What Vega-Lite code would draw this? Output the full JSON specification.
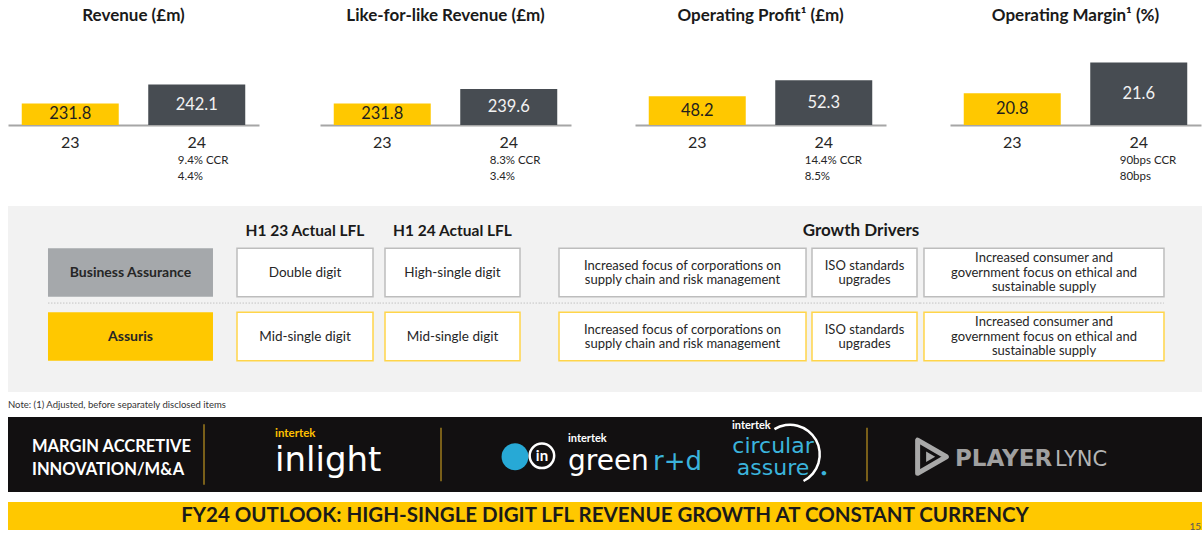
{
"$schema": "https://vega.github.io/schema/vega-lite/v6.json",
"padding": {"left": 8, "top": 7, "right": 0, "bottom": 0},
"background": "white",
"config": {
  "font": "Lato",
  "view": {"stroke": null},
  "title": {"font": "Lato", "fontSize": 17, "fontWeight": "bold", "color": "#1a1a1a", "offset": 15, "anchor": "middle"},
  "axis": {"labelFont": "Lato"},
  "text": {"font": "Lato"}
},
"datasets": {
  "fin": [
    {"metric": "Revenue", "year": "23", "value": 231.8},
    {"metric": "Revenue", "year": "24", "value": 242.1, "note": "9.4% CCR\n4.4%"},
    {"metric": "LFL", "year": "23", "value": 231.8},
    {"metric": "LFL", "year": "24", "value": 239.6, "note": "8.3% CCR\n3.4%"},
    {"metric": "OP", "year": "23", "value": 48.2},
    {"metric": "OP", "year": "24", "value": 52.3, "note": "14.4% CCR\n8.5%"},
    {"metric": "OM", "year": "23", "value": 20.8},
    {"metric": "OM", "year": "24", "value": 21.6, "note": "90bps CCR\n80bps"}
  ],
  "cells": [
    {"col": "seg", "row": "Business Assurance", "text": "Business Assurance"},
    {"col": "seg", "row": "Assuris", "text": "Assuris"},
    {"col": "h123", "row": "Business Assurance", "text": "Double digit"},
    {"col": "h123", "row": "Assuris", "text": "Mid-single digit"},
    {"col": "h124", "row": "Business Assurance", "text": "High-single digit"},
    {"col": "h124", "row": "Assuris", "text": "Mid-single digit"},
    {"col": "d1", "row": "Business Assurance", "text": "Increased focus of corporations on\nsupply chain and risk management"},
    {"col": "d1", "row": "Assuris", "text": "Increased focus of corporations on\nsupply chain and risk management"},
    {"col": "d2", "row": "Business Assurance", "text": "ISO standards\nupgrades"},
    {"col": "d2", "row": "Assuris", "text": "ISO standards\nupgrades"},
    {"col": "d3", "row": "Business Assurance", "text": "Increased consumer and\ngovernment focus on ethical and\nsustainable supply"},
    {"col": "d3", "row": "Assuris", "text": "Increased consumer and\ngovernment focus on ethical and\nsustainable supply"}
  ],
  "heads": [
    {"col": "h123", "text": "H1 23 Actual LFL"},
    {"col": "h124", "text": "H1 24 Actual LFL"},
    {"col": "d3", "text": "Growth Drivers"}
  ],
  "note": [{"note": "Note: (1) Adjusted, before separately disclosed items"}],
  "banner": [
    {"cell": "c1", "part": "tagline", "text": "MARGIN ACCRETIVE\nINNOVATION/M&A"},
    {"cell": "c2", "part": "small", "text": "intertek"},
    {"cell": "c2", "part": "big", "text": "inlight"},
    {"cell": "c3", "part": "globe"},
    {"cell": "c3", "part": "in", "text": "in"},
    {"cell": "c3", "part": "small", "text": "intertek"},
    {"cell": "c3", "part": "big", "text": "green"},
    {"cell": "c3", "part": "accent", "text": "r+d"},
    {"cell": "c4", "part": "small", "text": "intertek"},
    {"cell": "c4", "part": "lines", "text": "circular\nassure"},
    {"cell": "c4", "part": "dot", "text": "•"},
    {"cell": "c5", "part": "icon"},
    {"cell": "c5", "part": "big", "text": "PLAYER"},
    {"cell": "c5", "part": "accent", "text": "LYNC"}
  ],
  "footer": [
    {"part": "outlook", "text": "FY24 OUTLOOK: HIGH-SINGLE DIGIT LFL REVENUE GROWTH AT CONSTANT CURRENCY"},
    {"part": "page", "text": "15"}
  ]
},
"vconcat": [
  {"hconcat": [
    {"width": 251, "height": 85, "title": {"text": "Revenue (£m)"},
     "data": {"name": "fin"}, "transform": [{"filter": "datum.metric == 'Revenue'"}],
     "encoding": {"x": {"field": "year", "type": "nominal", "scale": {"paddingInner": 0.2332, "paddingOuter": 0.1087, "align": 0.5}, "axis": {"title": null, "labelAngle": 0, "ticks": false, "tickSize": 0, "labelPadding": 9, "labelFontSize": 16, "labelColor": "#262626", "domainColor": "#a6a6a6", "domainWidth": 2, "grid": false}}},
     "layer": [
       {"mark": {"type": "bar"}, "encoding": {"y": {"field": "value", "type": "quantitative", "scale": {"domain": [220.3, 266.0], "zero": false, "nice": false}, "axis": null}, "y2": {"datum": 220.3}, "color": {"field": "year", "type": "nominal", "scale": {"domain": ["23", "24"], "range": ["#ffc800", "#474c52"]}, "legend": null}}},
       {"mark": {"type": "text", "fontSize": 16.5, "baseline": "middle"}, "encoding": {"y": {"field": "value", "type": "quantitative", "scale": {"domain": [220.3, 311.7], "zero": false, "nice": false}, "axis": null}, "text": {"field": "value", "type": "quantitative", "format": ".1f"}, "color": {"field": "year", "type": "nominal", "scale": {"domain": ["23", "24"], "range": ["#1f1f1f", "#f2f2f2"]}, "legend": null}}},
       {"transform": [{"filter": "isValid(datum.note)"}], "mark": {"type": "text", "align": "left", "baseline": "top", "fontSize": 11.5, "lineBreak": "\n", "lineHeight": 15.5, "dx": -19, "dy": 30, "color": "#262626"}, "encoding": {"y": {"datum": 220.3, "type": "quantitative", "scale": {"domain": [220.3, 266.0], "zero": false, "nice": false}, "axis": null}, "text": {"field": "note"}}}
     ],
     "resolve": {"scale": {"y": "independent", "color": "independent"}}
    },
    {"hconcat": [
      {"width": 251, "height": 85, "title": {"text": "Like-for-like Revenue (£m)"},
       "data": {"name": "fin"}, "transform": [{"filter": "datum.metric == 'LFL'"}],
       "encoding": {"x": {"field": "year", "type": "nominal", "scale": {"paddingInner": 0.2332, "paddingOuter": 0.1087, "align": 0.5}, "axis": {"title": null, "labelAngle": 0, "ticks": false, "tickSize": 0, "labelPadding": 9, "labelFontSize": 16, "labelColor": "#262626", "domainColor": "#a6a6a6", "domainWidth": 2, "grid": false}}},
       "layer": [
         {"mark": {"type": "bar"}, "encoding": {"y": {"field": "value", "type": "quantitative", "scale": {"domain": [220.3, 266.0], "zero": false, "nice": false}, "axis": null}, "y2": {"datum": 220.3}, "color": {"field": "year", "type": "nominal", "scale": {"domain": ["23", "24"], "range": ["#ffc800", "#474c52"]}, "legend": null}}},
         {"mark": {"type": "text", "fontSize": 16.5, "baseline": "middle"}, "encoding": {"y": {"field": "value", "type": "quantitative", "scale": {"domain": [220.3, 311.7], "zero": false, "nice": false}, "axis": null}, "text": {"field": "value", "type": "quantitative", "format": ".1f"}, "color": {"field": "year", "type": "nominal", "scale": {"domain": ["23", "24"], "range": ["#1f1f1f", "#f2f2f2"]}, "legend": null}}},
         {"transform": [{"filter": "isValid(datum.note)"}], "mark": {"type": "text", "align": "left", "baseline": "top", "fontSize": 11.5, "lineBreak": "\n", "lineHeight": 15.5, "dx": -19, "dy": 30, "color": "#262626"}, "encoding": {"y": {"datum": 220.3, "type": "quantitative", "scale": {"domain": [220.3, 266.0], "zero": false, "nice": false}, "axis": null}, "text": {"field": "note"}}}
       ],
       "resolve": {"scale": {"y": "independent", "color": "independent"}}
      },
      {"width": 251, "height": 85, "title": {"text": "Operating Profit¹ (£m)"},
       "data": {"name": "fin"}, "transform": [{"filter": "datum.metric == 'OP'"}],
       "encoding": {"x": {"field": "year", "type": "nominal", "scale": {"paddingInner": 0.2332, "paddingOuter": 0.1087, "align": 0.5}, "axis": {"title": null, "labelAngle": 0, "ticks": false, "tickSize": 0, "labelPadding": 9, "labelFontSize": 16, "labelColor": "#262626", "domainColor": "#a6a6a6", "domainWidth": 2, "grid": false}}},
       "layer": [
         {"mark": {"type": "bar"}, "encoding": {"y": {"field": "value", "type": "quantitative", "scale": {"domain": [40.8, 62.6], "zero": false, "nice": false}, "axis": null}, "y2": {"datum": 40.8}, "color": {"field": "year", "type": "nominal", "scale": {"domain": ["23", "24"], "range": ["#ffc800", "#474c52"]}, "legend": null}}},
         {"mark": {"type": "text", "fontSize": 16.5, "baseline": "middle"}, "encoding": {"y": {"field": "value", "type": "quantitative", "scale": {"domain": [40.8, 84.4], "zero": false, "nice": false}, "axis": null}, "text": {"field": "value", "type": "quantitative", "format": ".1f"}, "color": {"field": "year", "type": "nominal", "scale": {"domain": ["23", "24"], "range": ["#1f1f1f", "#f2f2f2"]}, "legend": null}}},
         {"transform": [{"filter": "isValid(datum.note)"}], "mark": {"type": "text", "align": "left", "baseline": "top", "fontSize": 11.5, "lineBreak": "\n", "lineHeight": 15.5, "dx": -19, "dy": 30, "color": "#262626"}, "encoding": {"y": {"datum": 40.8, "type": "quantitative", "scale": {"domain": [40.8, 62.6], "zero": false, "nice": false}, "axis": null}, "text": {"field": "note"}}}
       ],
       "resolve": {"scale": {"y": "independent", "color": "independent"}}
      },
      {"width": 251, "height": 85, "title": {"text": "Operating Margin¹ (%)"},
       "data": {"name": "fin"}, "transform": [{"filter": "datum.metric == 'OM'"}],
       "encoding": {"x": {"field": "year", "type": "nominal", "scale": {"paddingInner": 0.2332, "paddingOuter": 0.1087, "align": 0.5}, "axis": {"title": null, "labelAngle": 0, "ticks": false, "tickSize": 0, "labelPadding": 9, "labelFontSize": 16, "labelColor": "#262626", "domainColor": "#a6a6a6", "domainWidth": 2, "grid": false}}},
       "layer": [
         {"mark": {"type": "bar"}, "encoding": {"y": {"field": "value", "type": "quantitative", "scale": {"domain": [19.97, 22.19], "zero": false, "nice": false}, "axis": null}, "y2": {"datum": 19.97}, "color": {"field": "year", "type": "nominal", "scale": {"domain": ["23", "24"], "range": ["#ffc800", "#474c52"]}, "legend": null}}},
         {"mark": {"type": "text", "fontSize": 16.5, "baseline": "middle"}, "encoding": {"y": {"field": "value", "type": "quantitative", "scale": {"domain": [19.97, 24.41], "zero": false, "nice": false}, "axis": null}, "text": {"field": "value", "type": "quantitative", "format": ".1f"}, "color": {"field": "year", "type": "nominal", "scale": {"domain": ["23", "24"], "range": ["#1f1f1f", "#f2f2f2"]}, "legend": null}}},
         {"transform": [{"filter": "isValid(datum.note)"}], "mark": {"type": "text", "align": "left", "baseline": "top", "fontSize": 11.5, "lineBreak": "\n", "lineHeight": 15.5, "dx": -19, "dy": 30, "color": "#262626"}, "encoding": {"y": {"datum": 19.97, "type": "quantitative", "scale": {"domain": [19.97, 22.19], "zero": false, "nice": false}, "axis": null}, "text": {"field": "note"}}}
       ],
       "resolve": {"scale": {"y": "independent", "color": "independent"}}
      }
    ], "spacing": 64}
  ], "spacing": 61},
  {"vconcat": [
    {"hconcat": [
      {"width": 217, "height": 186, "view": {"fill": "#f2f2f2", "stroke": null},
       "data": {"name": "cells"}, "transform": [{"filter": "datum.col == 'seg'"}],
       "encoding": {
         "x": {"field": "col", "type": "nominal", "scale": {"paddingInner": 0, "paddingOuter": 0.15758, "align": 0.769}, "axis": null},
         "y": {"field": "row", "type": "nominal", "scale": {"domain": ["Business Assurance", "Assuris"], "paddingInner": 0.2422, "paddingOuter": 0.5742, "align": 0.575}, "axis": null}
       },
       "layer": [
         {"mark": {"type": "rect"}, "encoding": {"fill": {"field": "row", "type": "nominal", "scale": {"domain": ["Business Assurance", "Assuris"], "range": ["#a5a8ab", "#ffc800"]}, "legend": null}}},
         {"mark": {"type": "text", "fontSize": 14, "fontWeight": "bold", "color": "#262626", "baseline": "middle"}, "encoding": {"text": {"field": "text"}}},
         {"transform": [{"filter": "datum.row == 'Assuris'"}], "mark": {"type": "rule", "strokeDash": [1.5, 1.5], "color": "#c4c4c4", "strokeWidth": 1}, "encoding": {"x": {"field": "col", "type": "nominal", "bandPosition": 0}, "x2": {"datum": "seg", "bandPosition": 1.0727}, "y": {"datum": "Assuris", "bandPosition": -0.19}}}
       ]
      },
      {"width": 154, "height": 186, "view": {"fill": "#f2f2f2", "stroke": null},
       "data": {"name": "cells"}, "transform": [{"filter": "datum.col == 'h123'"}],
       "encoding": {
         "x": {"field": "col", "type": "nominal", "scale": {"paddingInner": 0, "paddingOuter": 0.06618, "align": 0.667}, "axis": null},
         "y": {"field": "row", "type": "nominal", "scale": {"domain": ["Business Assurance", "Assuris"], "paddingInner": 0.2422, "paddingOuter": 0.5742, "align": 0.575}, "axis": null}
       },
       "layer": [
         {"transform": [{"filter": "datum.row == 'Assuris'"}], "mark": {"type": "rule", "strokeDash": [1.5, 1.5], "color": "#c4c4c4", "strokeWidth": 1}, "encoding": {"x": null, "y": {"datum": "Assuris", "bandPosition": -0.19}}},
         {"mark": {"type": "rect", "fill": "white", "strokeWidth": 1.5}, "encoding": {"stroke": {"field": "row", "type": "nominal", "scale": {"domain": ["Business Assurance", "Assuris"], "range": ["#bdbdbd", "#ffd54a"]}, "legend": null}}},
         {"mark": {"type": "text", "fontSize": 13.5, "color": "#262626", "baseline": "middle"}, "encoding": {"text": {"field": "text"}}},
         {"data": {"name": "heads"}, "transform": [{"filter": "datum.col == 'h123'"}], "mark": {"type": "text", "fontSize": 15.5, "fontWeight": "bold", "color": "#1a1a1a", "baseline": "middle"}, "encoding": {"y": {"datum": "Business Assurance", "bandPosition": -0.366}, "text": {"field": "text"}}}
       ]
      },
      {"width": 161, "height": 186, "view": {"fill": "#f2f2f2", "stroke": null},
       "data": {"name": "cells"}, "transform": [{"filter": "datum.col == 'h124'"}],
       "encoding": {
         "x": {"field": "col", "type": "nominal", "scale": {"paddingInner": 0, "paddingOuter": 0.0963, "align": 0.231}, "axis": null},
         "y": {"field": "row", "type": "nominal", "scale": {"domain": ["Business Assurance", "Assuris"], "paddingInner": 0.2422, "paddingOuter": 0.5742, "align": 0.575}, "axis": null}
       },
       "layer": [
         {"transform": [{"filter": "datum.row == 'Assuris'"}], "mark": {"type": "rule", "strokeDash": [1.5, 1.5], "color": "#c4c4c4", "strokeWidth": 1}, "encoding": {"x": null, "y": {"datum": "Assuris", "bandPosition": -0.19}}},
         {"mark": {"type": "rect", "fill": "white", "strokeWidth": 1.5}, "encoding": {"stroke": {"field": "row", "type": "nominal", "scale": {"domain": ["Business Assurance", "Assuris"], "range": ["#bdbdbd", "#ffd54a"]}, "legend": null}}},
         {"mark": {"type": "text", "fontSize": 13.5, "color": "#262626", "baseline": "middle"}, "encoding": {"text": {"field": "text"}}},
         {"data": {"name": "heads"}, "transform": [{"filter": "datum.col == 'h124'"}], "mark": {"type": "text", "fontSize": 15.5, "fontWeight": "bold", "color": "#1a1a1a", "baseline": "middle"}, "encoding": {"y": {"datum": "Business Assurance", "bandPosition": -0.366}, "text": {"field": "text"}}}
       ]
      },
      {"width": 269, "height": 186, "view": {"fill": "#f2f2f2", "stroke": null},
       "data": {"name": "cells"}, "transform": [{"filter": "datum.col == 'd1'"}],
       "encoding": {
         "x": {"field": "col", "type": "nominal", "scale": {"paddingInner": 0, "paddingOuter": 0.04453, "align": 0.864}, "axis": null},
         "y": {"field": "row", "type": "nominal", "scale": {"domain": ["Business Assurance", "Assuris"], "paddingInner": 0.2422, "paddingOuter": 0.5742, "align": 0.575}, "axis": null}
       },
       "layer": [
         {"transform": [{"filter": "datum.row == 'Assuris'"}], "mark": {"type": "rule", "strokeDash": [1.5, 1.5], "color": "#c4c4c4", "strokeWidth": 1}, "encoding": {"x": null, "y": {"datum": "Assuris", "bandPosition": -0.19}}},
         {"mark": {"type": "rect", "fill": "white", "strokeWidth": 1.5}, "encoding": {"stroke": {"field": "row", "type": "nominal", "scale": {"domain": ["Business Assurance", "Assuris"], "range": ["#bdbdbd", "#ffd54a"]}, "legend": null}}},
         {"mark": {"type": "text", "fontSize": 13, "color": "#262626", "baseline": "middle", "lineBreak": "\n", "lineHeight": 14.5, "dy": -7}, "encoding": {"text": {"field": "text"}}}
       ]
      },
      {"width": 111, "height": 186, "view": {"fill": "#f2f2f2", "stroke": null},
       "data": {"name": "cells"}, "transform": [{"filter": "datum.col == 'd2'"}],
       "encoding": {
         "x": {"field": "col", "type": "nominal", "scale": {"paddingInner": 0, "paddingOuter": 0.02857, "align": 0.5}, "axis": null},
         "y": {"field": "row", "type": "nominal", "scale": {"domain": ["Business Assurance", "Assuris"], "paddingInner": 0.2422, "paddingOuter": 0.5742, "align": 0.575}, "axis": null}
       },
       "layer": [
         {"transform": [{"filter": "datum.row == 'Assuris'"}], "mark": {"type": "rule", "strokeDash": [1.5, 1.5], "color": "#c4c4c4", "strokeWidth": 1}, "encoding": {"x": null, "y": {"datum": "Assuris", "bandPosition": -0.19}}},
         {"mark": {"type": "rect", "fill": "white", "strokeWidth": 1.5}, "encoding": {"stroke": {"field": "row", "type": "nominal", "scale": {"domain": ["Business Assurance", "Assuris"], "range": ["#bdbdbd", "#ffd54a"]}, "legend": null}}},
         {"mark": {"type": "text", "fontSize": 13, "color": "#262626", "baseline": "middle", "lineBreak": "\n", "lineHeight": 14.5, "dy": -7}, "encoding": {"text": {"field": "text"}}}
       ]
      },
      {"width": 282, "height": 186, "view": {"fill": "#f2f2f2", "stroke": null},
       "data": {"name": "cells"}, "transform": [{"filter": "datum.col == 'd3'"}],
       "encoding": {
         "x": {"field": "col", "type": "nominal", "scale": {"paddingInner": 0, "paddingOuter": 0.0875, "align": 0.095}, "axis": null},
         "y": {"field": "row", "type": "nominal", "scale": {"domain": ["Business Assurance", "Assuris"], "paddingInner": 0.2422, "paddingOuter": 0.5742, "align": 0.575}, "axis": null}
       },
       "layer": [
         {"transform": [{"filter": "datum.row == 'Assuris'"}], "mark": {"type": "rule", "strokeDash": [1.5, 1.5], "color": "#c4c4c4", "strokeWidth": 1}, "encoding": {"x": {"field": "col", "type": "nominal", "bandPosition": -0.0167}, "x2": {"datum": "d3", "bandPosition": 1}, "y": {"datum": "Assuris", "bandPosition": -0.19}}},
         {"mark": {"type": "rect", "fill": "white", "strokeWidth": 1.5}, "encoding": {"stroke": {"field": "row", "type": "nominal", "scale": {"domain": ["Business Assurance", "Assuris"], "range": ["#bdbdbd", "#ffd54a"]}, "legend": null}}},
         {"mark": {"type": "text", "fontSize": 13, "color": "#262626", "baseline": "middle", "lineBreak": "\n", "lineHeight": 14.5, "dy": -14.5}, "encoding": {"text": {"field": "text"}}},
         {"data": {"name": "heads"}, "transform": [{"filter": "datum.col == 'd3'"}], "mark": {"type": "text", "fontSize": 17, "fontWeight": "bold", "color": "#1a1a1a", "baseline": "middle"}, "encoding": {"x": {"field": "col", "type": "nominal", "bandPosition": -0.2625}, "y": {"datum": "Business Assurance", "bandPosition": -0.366}, "text": {"field": "text"}}}
       ]
      }
    ], "spacing": 0, "bounds": "flush"},
    {"width": 1194, "height": 11,
     "data": {"name": "note"},
     "mark": {"type": "text", "align": "left", "baseline": "middle", "fontSize": 9.5, "color": "#333333"},
     "encoding": {"x": {"datum": 0, "type": "quantitative", "scale": {"domain": [0, 1]}, "axis": null}, "text": {"field": "note"}}
    },
    {"vconcat": [
      {"hconcat": [
        {"width": 196, "height": 75, "view": {"fill": "#121011", "stroke": null},
         "data": {"name": "banner"}, "transform": [{"filter": "datum.cell == 'c1'"}],
         "mark": {"type": "text", "align": "left", "baseline": "middle", "dx": -74, "dy": -8, "fontSize": 16.5, "fontWeight": "bold", "color": "#ffffff", "lineBreak": "\n", "lineHeight": 23},
         "encoding": {"text": {"field": "text"}}
        },
        {"width": 237, "height": 75, "view": {"fill": "#121011", "stroke": null},
         "data": {"name": "banner"}, "transform": [{"filter": "datum.cell == 'c2'"}],
         "layer": [
           {"transform": [{"filter": "datum.part == 'small'"}], "mark": {"type": "rule", "color": "#9c7a1c", "strokeWidth": 1.5}, "encoding": {"x": {"datum": 0, "type": "quantitative", "scale": {"domain": [0, 1]}, "axis": null}, "y": {"datum": 0, "type": "quantitative", "scale": {"domain": [-0.12, 1.12]}, "axis": null}, "y2": {"datum": 1}}},
           {"transform": [{"filter": "datum.part == 'small'"}], "mark": {"type": "text", "align": "left", "baseline": "alphabetic", "dx": -47.5, "dy": -18, "fontSize": 11.5, "fontWeight": "bold", "color": "#ffc000"}, "encoding": {"text": {"field": "text"}}},
           {"transform": [{"filter": "datum.part == 'big'"}], "mark": {"type": "text", "font": "DejaVu Sans", "align": "left", "baseline": "alphabetic", "dx": -47.5, "dy": 16.5, "fontSize": 34, "fontWeight": "normal", "color": "#ffffff"}, "encoding": {"text": {"field": "text"}}}
         ]
        },
        {"width": 272, "height": 75, "view": {"fill": "#121011", "stroke": null},
         "data": {"name": "banner"}, "transform": [{"filter": "datum.cell == 'c3'"}],
         "layer": [
           {"transform": [{"filter": "datum.part == 'small'"}], "mark": {"type": "rule", "color": "#9c7a1c", "strokeWidth": 1.5}, "encoding": {"x": {"datum": 0, "type": "quantitative", "scale": {"domain": [0, 1]}, "axis": null}, "y": {"datum": 0, "type": "quantitative", "scale": {"domain": [-0.12, 1.12]}, "axis": null}, "y2": {"datum": 1}}},
           {"transform": [{"filter": "datum.part == 'globe'"}], "mark": {"type": "point", "shape": "circle", "filled": true, "size": 720, "color": "#27a9d6", "opacity": 1}, "encoding": {"x": {"datum": 0.272}, "y": {"datum": 0.4587}}},
           {"transform": [{"filter": "datum.part == 'in'"}], "mark": {"type": "point", "shape": "circle", "filled": false, "size": 600, "strokeWidth": 2.5, "color": "#ffffff", "opacity": 1}, "encoding": {"x": {"datum": 0.371}, "y": {"datum": 0.475}}},
           {"transform": [{"filter": "datum.part == 'in'"}], "mark": {"type": "text", "align": "center", "baseline": "middle", "dx": -35, "dy": 1, "fontSize": 15, "fontWeight": "bold", "color": "#ffffff"}, "encoding": {"text": {"field": "text"}}},
           {"transform": [{"filter": "datum.part == 'small'"}], "mark": {"type": "text", "align": "left", "baseline": "alphabetic", "dx": -9, "dy": -13, "fontSize": 11, "fontWeight": "bold", "color": "#ffffff"}, "encoding": {"text": {"field": "text"}}},
           {"transform": [{"filter": "datum.part == 'big'"}], "mark": {"type": "text", "font": "DejaVu Sans", "align": "left", "baseline": "alphabetic", "dx": -9, "dy": 15.5, "fontSize": 28, "color": "#ffffff"}, "encoding": {"text": {"field": "text"}}},
           {"transform": [{"filter": "datum.part == 'accent'"}], "mark": {"type": "text", "font": "DejaVu Sans", "align": "left", "baseline": "alphabetic", "dx": 76, "dy": 15.5, "fontSize": 26, "color": "#3bb4dc"}, "encoding": {"text": {"field": "text"}}}
         ]
        },
        {"width": 154, "height": 75, "view": {"fill": "#121011", "stroke": null},
         "data": {"name": "banner"}, "transform": [{"filter": "datum.cell == 'c4'"}],
         "layer": [
           {"transform": [{"filter": "datum.part == 'small'"}], "mark": {"type": "arc", "theta": -0.55, "theta2": 2.67, "radius": 31, "radius2": 28.5, "color": "#ffffff"}, "encoding": {}},
           {"transform": [{"filter": "datum.part == 'small'"}], "mark": {"type": "text", "align": "left", "baseline": "alphabetic", "dx": -58, "dy": -26, "fontSize": 11, "fontWeight": "bold", "color": "#ffffff"}, "encoding": {"text": {"field": "text"}}},
           {"transform": [{"filter": "datum.part == 'lines'"}], "mark": {"type": "text", "font": "DejaVu Sans", "align": "center", "baseline": "alphabetic", "dx": -17, "dy": -2, "fontSize": 22, "lineBreak": "\n", "lineHeight": 22.5, "color": "#3bb4dc"}, "encoding": {"text": {"field": "text"}}},
           {"transform": [{"filter": "datum.part == 'dot'"}], "mark": {"type": "text", "align": "center", "baseline": "middle", "dx": 34, "dy": 18, "fontSize": 12, "color": "#3bb4dc"}, "encoding": {"text": {"field": "text"}}}
         ]
        },
        {"width": 335, "height": 75, "view": {"fill": "#121011", "stroke": null},
         "data": {"name": "banner"}, "transform": [{"filter": "datum.cell == 'c5'"}],
         "layer": [
           {"transform": [{"filter": "datum.part == 'big'"}], "mark": {"type": "rule", "color": "#9c7a1c", "strokeWidth": 1.5}, "encoding": {"x": {"datum": 0, "type": "quantitative", "scale": {"domain": [0, 1]}, "axis": null}, "y": {"datum": 0, "type": "quantitative", "scale": {"domain": [-0.12, 1.12]}, "axis": null}, "y2": {"datum": 1}}},
           {"transform": [{"filter": "datum.part == 'icon'"}], "mark": {"type": "point", "shape": "triangle-right", "filled": false, "size": 1100, "strokeWidth": 5, "strokeJoin": "round", "color": "#a9a9a9", "opacity": 1}, "encoding": {"x": {"datum": 0.194}, "y": {"datum": 0.4587}}},
           {"transform": [{"filter": "datum.part == 'icon'"}], "mark": {"type": "point", "shape": "triangle-right", "filled": true, "size": 110, "color": "#a9a9a9", "opacity": 1}, "encoding": {"x": {"datum": 0.19}, "y": {"datum": 0.4587}}},
           {"transform": [{"filter": "datum.part == 'big'"}], "mark": {"type": "text", "font": "DejaVu Sans", "align": "left", "baseline": "alphabetic", "dx": -79.5, "dy": 11.5, "fontSize": 23, "fontWeight": "bold", "color": "#a0a0a0"}, "encoding": {"text": {"field": "text"}}},
           {"transform": [{"filter": "datum.part == 'accent'"}], "mark": {"type": "text", "font": "DejaVu Sans", "align": "left", "baseline": "alphabetic", "dx": 20.5, "dy": 11.5, "fontSize": 21, "fontWeight": "normal", "color": "#b4b4b4"}, "encoding": {"text": {"field": "text"}}}
         ]
        }
      ], "spacing": 0, "bounds": "flush"},
      {"width": 1194, "height": 28, "view": {"fill": "#ffc800", "stroke": null},
       "data": {"name": "footer"},
       "layer": [
         {"transform": [{"filter": "datum.part == 'outlook'"}], "mark": {"type": "text", "align": "center", "baseline": "middle", "fontSize": 20.5, "fontWeight": "bold", "color": "#1a1a1a"}, "encoding": {"text": {"field": "text"}}},
         {"transform": [{"filter": "datum.part == 'page'"}], "mark": {"type": "text", "align": "right", "baseline": "middle", "dx": 596, "dy": 11, "fontSize": 10, "color": "#595959"}, "encoding": {"text": {"field": "text"}}}
       ]
      }
    ], "spacing": 10}
  ], "spacing": 7}
],
"spacing": 24
}
